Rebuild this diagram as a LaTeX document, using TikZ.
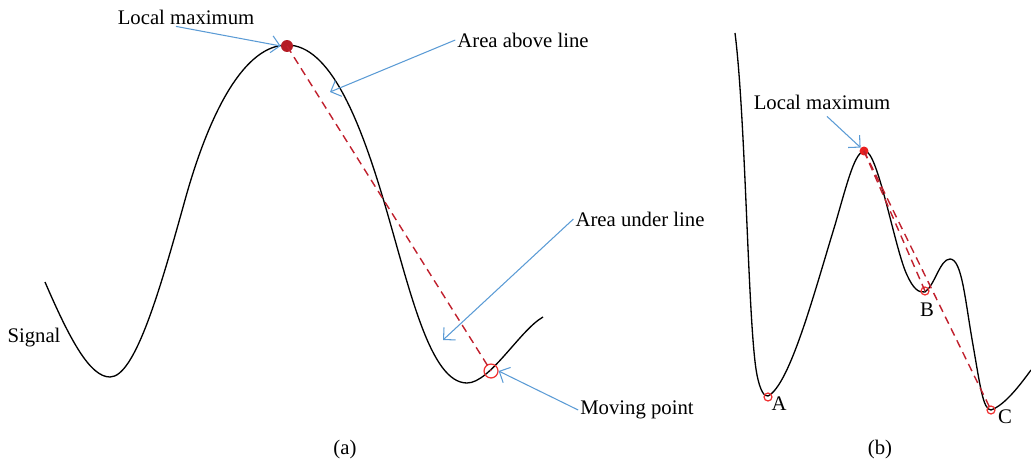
\documentclass[tikz,border=0pt]{standalone}
\usepackage{fontspec}
\setmainfont{Liberation Serif}
\usetikzlibrary{arrows.meta}
\definecolor{calloutblue}{RGB}{91,155,213}
\definecolor{lineRed}{RGB}{192,32,45}
\definecolor{dotRed}{RGB}{180,28,36}
\definecolor{brightRed}{RGB}{232,32,32}
\definecolor{ringRed}{RGB}{240,50,50}

\begin{document}
\begin{tikzpicture}[
    x=0.02cm, y=-0.02cm,
    lbl/.style={inner sep=1pt, font=\fontsize{11.8}{14}\selectfont},
    sigline/.style={black, line width=0.75pt, line join=round},
    dashline/.style={lineRed, line width=0.8pt, dash pattern=on 4.5pt off 3pt},
    callout/.style={calloutblue, line width=0.6pt, -{Straight Barb[length=1.7mm, width=3.4mm]}},
    ring/.style={circle, draw=ringRed, line width=0.7pt, inner sep=0pt}
]
    \useasboundingbox (0,0) rectangle (1031,466);

    % (a) signal with moving point
    \draw[sigline] (45,282) .. controls (70,340) and (90,377) .. (110,377)
        .. controls (135,377) and (160,290) .. (185,200)
        .. controls (210,110) and (245,45) .. (287,45)
        .. controls (330,45) and (360,120) .. (385,205)
        .. controls (410,290) and (430,383) .. (467,383)
        .. controls (490,383) and (520,330) .. (543,317);

    \node[circle, fill=dotRed, inner sep=0pt, minimum size=12pt*0.567] (pkA) at (287,46) {};
    \node[ring, minimum size=14pt*0.567] (mvA) at (491,371) {};
    \draw[dashline] (pkA.center) -- (mvA.center);

    \node[lbl] (lmaxA)  at (186,17)  {Local maximum};
    \node[lbl] (aboveA) at (523,40)  {Area above line};
    \node[lbl] (underA) at (640,219) {Area under line};
    \node[lbl] (movA)   at (637,410) {Moving point};
    \node[lbl] (sig)    at (34,338)  {Signal};
    \node[lbl] (capA)   at (345,450) {(a)};

    \coordinate (aboveTip) at (330,92);
    \coordinate (underTip) at (443,340);

    \draw[callout] ([xshift=-0.2cm]lmaxA.south) -- (pkA.west);
    \draw[callout] (aboveA.west) -- (aboveTip);
    \draw[callout] (underA.west) -- (underTip);
    \draw[callout] (movA.west) -- (mvA.east);

    % (b) points A, B, C
    \draw[sigline] (735,33) .. controls (746,120) and (748,330) .. (757,375)
        .. controls (760,390) and (764,397) .. (768,396)
        .. controls (790,385) and (815,290) .. (835,225)
        .. controls (848,180) and (855,151) .. (865,151)
        .. controls (878,151) and (895,250) .. (907,275)
        .. controls (913,288) and (918,293) .. (925,292)
        .. controls (935,285) and (940,259) .. (950,259)
        .. controls (962,259) and (965,300) .. (973,345)
        .. controls (980,385) and (983,410) .. (991,410)
        .. controls (1005,405) and (1020,385) .. (1031,370);

    \node[circle, fill=brightRed, inner sep=0pt, minimum size=9pt*0.567] (pkB) at (864,151) {};
    \node[ring, minimum size=8pt*0.567] (ptA) at (768,397) {};
    \node[ring, minimum size=8pt*0.567] (ptB) at (925,291) {};
    \node[ring, minimum size=8pt*0.567] (ptC) at (991,410) {};
    \draw[dashline] (pkB.center) -- (ptB.center);
    \draw[dashline] (pkB.center) -- (ptC.center);

    \node[lbl] (lmaxB) at (822,102) {Local maximum};
    \node[lbl] (labA)  at (779,404) {A};
    \node[lbl] (labB)  at (927,310) {B};
    \node[lbl] (labC)  at (1005,417) {C};
    \node[lbl] (capB)  at (880,450) {(b)};

    \draw[callout] ([xshift=0.1cm,yshift=-0.1cm]lmaxB.south) -- (pkB.north west);
\end{tikzpicture}
\end{document}
